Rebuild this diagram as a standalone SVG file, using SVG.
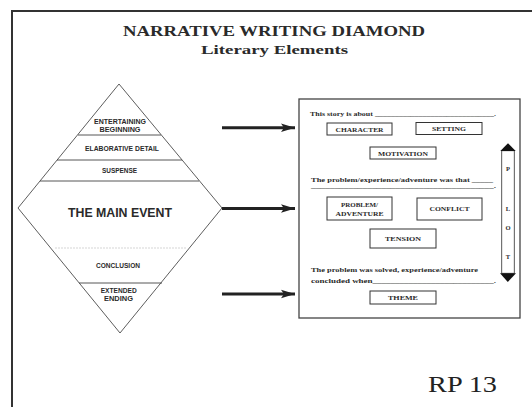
<svg xmlns="http://www.w3.org/2000/svg" width="532" height="407" viewBox="0 0 532 407">
<defs>
<style>
.serif{font-family:"Liberation Serif","Times New Roman",serif;font-weight:bold;fill:#2a2a2a}
.sans{font-family:"Liberation Sans",Arial,sans-serif;font-weight:bold;fill:#2a2a2a;text-anchor:middle}
.sm{font-size:6.3px}
.bx{fill:#fff;stroke:#333;stroke-width:1}
.bt{font-size:6.5px;text-anchor:middle}
.ft{font-size:6.3px}
.arr{stroke:#222;stroke-width:3;fill:none}
</style>
<marker id="ah" markerUnits="userSpaceOnUse" markerWidth="16" markerHeight="12" refX="14" refY="5" orient="auto">
<path d="M0,0.8 L14,5 L0,9.2 L3,5 Z" fill="#222"/>
</marker>
</defs>
<rect width="532" height="407" fill="#fff"/>
<path d="M12,407 V11 H532" fill="none" stroke="#333" stroke-width="2"/>
<text class="serif" x="274" y="35.7" font-size="15" text-anchor="middle" textLength="302" lengthAdjust="spacingAndGlyphs">NARRATIVE WRITING DIAMOND</text>
<text class="serif" x="274.5" y="54" font-size="12" text-anchor="middle" textLength="147" lengthAdjust="spacingAndGlyphs">Literary Elements</text>

<g id="diamond">
<polygon points="119,84 222,208 120,333 18,208" fill="#fff" stroke="#333" stroke-width="0.8"/>
<line x1="78" y1="135" x2="161" y2="135" stroke="#444" stroke-width="0.9"/>
<line x1="57" y1="160" x2="182" y2="160" stroke="#444" stroke-width="0.9"/>
<line x1="40" y1="181" x2="199" y2="181" stroke="#444" stroke-width="0.9"/>
<line x1="55" y1="248" x2="187" y2="248" stroke="#bbb" stroke-width="0.6" stroke-dasharray="2,1"/>
<line x1="79" y1="283" x2="162" y2="283" stroke="#444" stroke-width="0.9"/>
</g>
<g id="n-entertaining">
<text class="sans sm" x="120" y="124" textLength="52" lengthAdjust="spacingAndGlyphs">ENTERTAINING</text>
<text class="sans sm" x="120" y="131.7" textLength="41" lengthAdjust="spacingAndGlyphs">BEGINNING</text>
</g>
<g id="n-elaborative"><text class="sans sm" x="122" y="150.7" textLength="74" lengthAdjust="spacingAndGlyphs">ELABORATIVE DETAIL</text></g>
<g id="n-suspense"><text class="sans sm" x="119.5" y="172.7" textLength="35" lengthAdjust="spacingAndGlyphs">SUSPENSE</text></g>
<g id="n-main"><text class="sans" x="120" y="216.7" font-size="12.5" textLength="104" lengthAdjust="spacingAndGlyphs">THE MAIN EVENT</text></g>
<g id="n-conclusion"><text class="sans sm" x="118" y="267.7" textLength="44" lengthAdjust="spacingAndGlyphs">CONCLUSION</text></g>
<g id="n-extended">
<text class="sans sm" x="118.7" y="292.7" textLength="36" lengthAdjust="spacingAndGlyphs">EXTENDED</text>
<text class="sans sm" x="118.5" y="300.7" textLength="29" lengthAdjust="spacingAndGlyphs">ENDING</text>
</g>

<g id="connectors">
<line class="arr" x1="222" y1="127.7" x2="295" y2="127.7" marker-end="url(#ah)"/>
<line class="arr" x1="222" y1="208.5" x2="295" y2="208.5" marker-end="url(#ah)"/>
<line class="arr" x1="222" y1="294" x2="295" y2="294" marker-end="url(#ah)"/>
<line x1="355" y1="220" x2="371" y2="232" stroke="#333" stroke-width="0.8"/>
<line x1="452" y1="220" x2="436" y2="232" stroke="#333" stroke-width="0.8"/>
</g>

<g id="panel">
<rect x="299" y="99" width="221" height="219" fill="#fff" stroke="#444" stroke-width="1.3"/>
<text class="serif ft" x="310" y="116" textLength="186" lengthAdjust="spacingAndGlyphs">This story is about ______________________________.</text>
<text class="serif ft" x="311" y="182" textLength="182" lengthAdjust="spacingAndGlyphs">The problem/experience/adventure was that _____</text>
<text class="serif ft" x="311" y="188" textLength="185" lengthAdjust="spacingAndGlyphs">_______________________________________.</text>
<text class="serif ft" x="311" y="271.7" textLength="167" lengthAdjust="spacingAndGlyphs">The problem was solved, experience/adventure</text>
<text class="serif ft" x="311" y="282.7" textLength="185" lengthAdjust="spacingAndGlyphs">concluded when___________________________.</text>
</g>
<g id="n-character"><rect class="bx" x="327" y="123" width="65" height="12"/><text class="serif bt" x="359.5" y="131.8" textLength="48" lengthAdjust="spacingAndGlyphs">CHARACTER</text></g>
<g id="n-setting"><rect class="bx" x="416" y="122.5" width="66" height="12"/><text class="serif bt" x="449" y="131" textLength="34" lengthAdjust="spacingAndGlyphs">SETTING</text></g>
<g id="n-motivation"><rect class="bx" x="370" y="147" width="66" height="12"/><text class="serif bt" x="403" y="155.5" textLength="50" lengthAdjust="spacingAndGlyphs">MOTIVATION</text></g>
<g id="n-problem"><rect class="bx" x="327" y="197" width="65" height="23"/><text class="serif bt" x="359.5" y="206.5" textLength="37" lengthAdjust="spacingAndGlyphs">PROBLEM/</text><text class="serif bt" x="359.5" y="215.5" textLength="48" lengthAdjust="spacingAndGlyphs">ADVENTURE</text></g>
<g id="n-conflict"><rect class="bx" x="417" y="198" width="65" height="22"/><text class="serif bt" x="449.5" y="211.3" textLength="40" lengthAdjust="spacingAndGlyphs">CONFLICT</text></g>
<g id="n-tension"><rect class="bx" x="370" y="229" width="66" height="19"/><text class="serif bt" x="403" y="240.5" textLength="36" lengthAdjust="spacingAndGlyphs">TENSION</text></g>
<g id="n-theme"><rect class="bx" x="370" y="291" width="66" height="13"/><text class="serif bt" x="403" y="299.8" textLength="30" lengthAdjust="spacingAndGlyphs">THEME</text></g>
<g id="n-plot">
<rect x="501.7" y="150.7" width="12.6" height="122.6" fill="#fff" stroke="#444" stroke-width="0.9"/>
<polygon points="508,143.3 515.7,150.9 500.3,150.9" fill="#111"/>
<polygon points="500,273.3 516,273.3 507.8,282" fill="#111"/>
<text class="serif" x="508" y="171" font-size="6.5" text-anchor="middle">P</text>
<text class="serif" x="508" y="211" font-size="6.5" text-anchor="middle">L</text>
<text class="serif" x="508" y="229.5" font-size="6.5" text-anchor="middle">O</text>
<text class="serif" x="508" y="258.5" font-size="6.5" text-anchor="middle">T</text>
</g>
<text x="428" y="391.5" font-family="Liberation Serif, serif" font-size="24" fill="#222" textLength="69" lengthAdjust="spacingAndGlyphs">RP 13</text>
</svg>
